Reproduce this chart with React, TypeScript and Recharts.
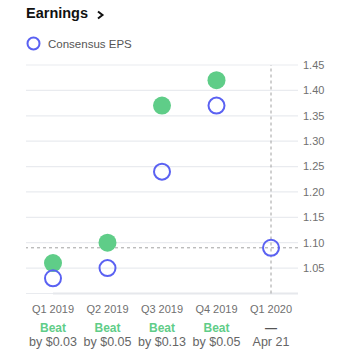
import React from "react";
import { ComposedChart, Scatter, XAxis, YAxis, CartesianGrid, ReferenceLine } from "recharts";

const quarters = ["Q1 2019", "Q2 2019", "Q3 2019", "Q4 2019", "Q1 2020"];
const actualEps = [1.06, 1.1, 1.37, 1.42, null];
const consensusEps = [1.03, 1.05, 1.24, 1.37, 1.09];
const results = ["Beat", "Beat", "Beat", "Beat", "—"];
const details = ["by $0.03", "by $0.05", "by $0.13", "by $0.05", "Apr 21"];
const yTicks = [1.0, 1.05, 1.1, 1.15, 1.2, 1.25, 1.3, 1.35, 1.4, 1.45];
const nextConsensus = 1.09;

const GREEN = "#5fcd88";
const BLUE = "#5a61f2";
const FONT = "'Liberation Sans', Arial, sans-serif";

const data = quarters.map((q, i) => ({
  quarter: q,
  actual: actualEps[i],
  consensus: consensusEps[i],
  result: results[i],
  detail: details[i],
}));

const ActualDot = (props: any) => {
  if (props.payload?.actual == null) return <g />;
  return <circle cx={props.cx} cy={props.cy} r={9} fill={GREEN} />;
};

const ConsensusDot = (props: any) => (
  <circle cx={props.cx} cy={props.cy} r={8} fill="none" stroke={BLUE} strokeWidth={2} />
);

const QuarterTick = (props: any) => {
  const { x, y, index } = props;
  const row = data[index];
  return (
    <g fontFamily={FONT} textAnchor="middle">
      <text x={x} y={y + 19} fontSize={11} fill="#707070">
        {row.quarter}
      </text>
      <text x={x} y={y + 38} fontSize={12} fontWeight={700} fill={row.result === "Beat" ? GREEN : "#555"}>
        {row.result}
      </text>
      <text x={x} y={y + 52} fontSize={12.5} fill="#666">
        {row.detail}
      </text>
    </g>
  );
};

export default function App() {
  return (
    <div style={{ position: "absolute", left: 0, top: 0, width: 339, height: 358, background: "#fff", fontFamily: FONT }}>
      <div style={{ position: "absolute", left: 26, top: 5, fontSize: 14.5, fontWeight: 700, color: "#111", display: "flex", alignItems: "center" }}>
        Earnings
        <svg width={10} height={10} style={{ marginLeft: 8, marginTop: 3 }}>
          <path d="M2 1.5 L6.5 5 L2 8.5" stroke="#111" strokeWidth={2} fill="none" />
        </svg>
      </div>
      <div style={{ position: "absolute", left: 26, top: 36, display: "flex", alignItems: "center", fontSize: 11.5, color: "#555" }}>
        <svg width={15} height={15}>
          <circle cx={7.5} cy={7.5} r={6} fill="none" stroke={BLUE} strokeWidth={2} />
        </svg>
        <span style={{ marginLeft: 7 }}>Consensus EPS</span>
      </div>
      <ComposedChart width={339} height={358} data={data} margin={{ top: 65, right: 0, bottom: 4.5, left: 26 }}>
        <CartesianGrid vertical={false} stroke="#e9ebef" strokeWidth={1.2} />
        <XAxis
          dataKey="quarter"
          type="category"
          height={60}
          padding={{ left: 27, right: 27 }}
          axisLine={false}
          tickLine={false}
          tickSize={0}
          tickMargin={0}
          interval={0}
          tick={<QuarterTick />}
        />
        <YAxis
          orientation="right"
          width={41}
          domain={[1.0, 1.45]}
          ticks={yTicks}
          interval={0}
          axisLine={false}
          tickLine={false}
          tickSize={0}
          tickMargin={5}
          tick={{ fill: "#707070", fontSize: 11, fontFamily: FONT, textAnchor: "start" }}
          tickFormatter={(v: number) => (v <= 1.0 ? "" : v.toFixed(2))}
        />
        <ReferenceLine
          y={1.0}
          stroke="#e6e8ec"
          strokeWidth={2}
          shape={(p: any) => <line x1={p.x1} y1={p.y1} x2={p.x2 + 27} y2={p.y2} stroke="#e6e8ec" strokeWidth={2} />}
        />
        <ReferenceLine y={nextConsensus} stroke="#a0a0a0" strokeDasharray="3 3" />
        <ReferenceLine x="Q1 2020" stroke="#a0a0a0" strokeDasharray="3 3" />
        <Scatter dataKey="actual" shape={<ActualDot />} isAnimationActive={false} />
        <Scatter dataKey="consensus" shape={<ConsensusDot />} isAnimationActive={false} />
      </ComposedChart>
    </div>
  );
}
